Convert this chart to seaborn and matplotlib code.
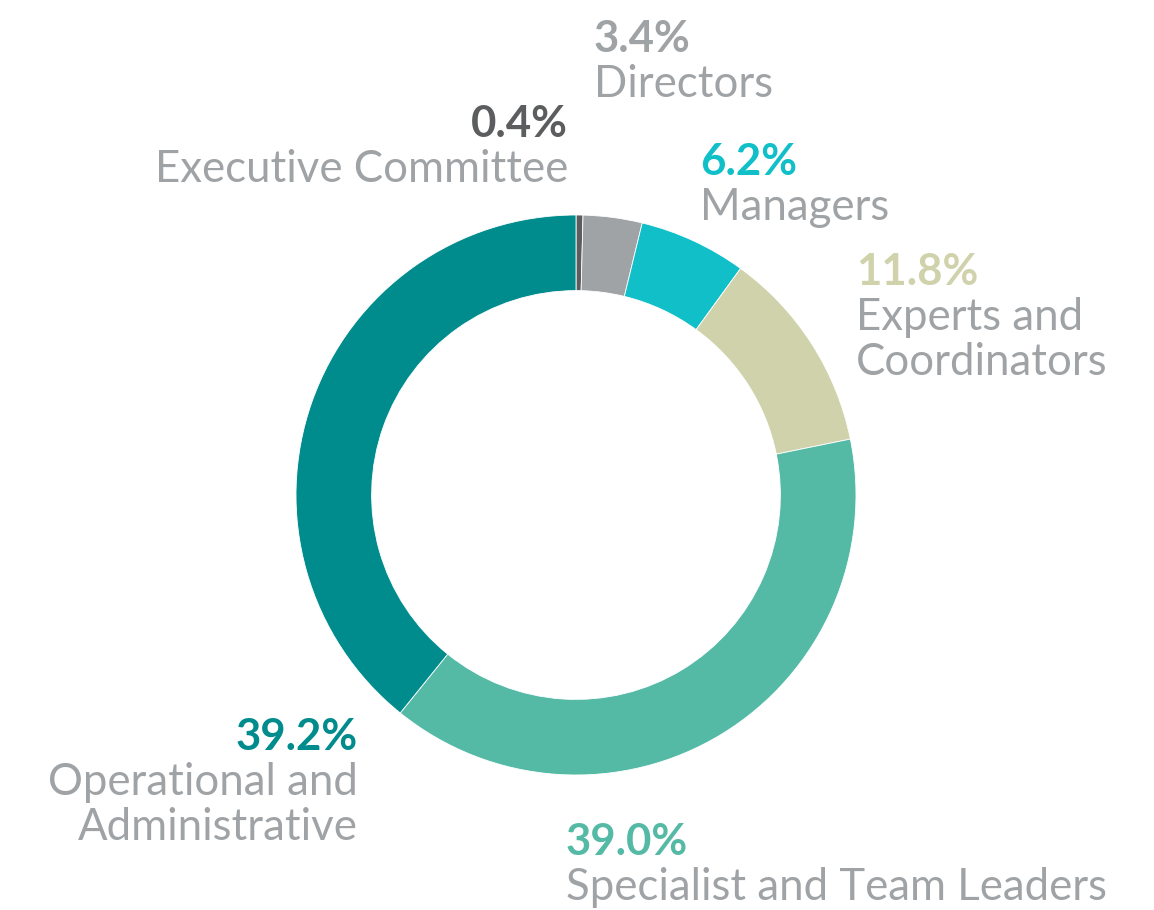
import matplotlib
matplotlib.use("Agg")
import matplotlib.pyplot as plt
import seaborn as sns

# Workforce breakdown by job level (share of employees, %)
categories = ["Executive Committee", "Directors", "Managers",
              "Experts and\nCoordinators", "Specialist and Team Leaders",
              "Operational and\nAdministrative"]
shares = [0.4, 3.4, 6.2, 11.8, 39.0, 39.2]
colors = ["#5c5d5f", "#a0a3a5", "#10bfc8", "#d0d2ab", "#55baa5", "#008b8d"]

sns.set_theme(style="white")
plt.rcParams["font.family"] = ["Lato", "DejaVu Sans"]

W, H = 1154, 910
fig = plt.figure(figsize=(W / 100, H / 100), dpi=100)
ax = fig.add_axes([0, 0, 1, 1])
ax.set_xlim(0, W)
ax.set_ylim(0, H)
ax.set_aspect("equal")
ax.axis("off")

cx, cy, R = 576, H - 495, 280
ax.pie(shares, colors=colors, startangle=90, counterclock=False,
       center=(cx, cy), radius=R,
       wedgeprops=dict(width=R * 0.27, edgecolor="white", linewidth=0.6))
ax.set_xlim(0, W)
ax.set_ylim(0, H)

name_color = "#a0a3a6"
# (x, baseline y of percentage, alignment) for each label block
label_pos = [(568, 137, "right"), (594, 52, "left"), (700, 175, "left"),
             (856, 285, "left"), (566, 855, "left"), (358, 750, "right")]
line_gap = 45
fs = 31.5
for cat, val, col, (x, y, ha) in zip(categories, shares, colors, label_pos):
    ax.text(x, H - y, f"{val:.1f}%", color=col, fontsize=fs,
            fontweight="bold", ha=ha, va="baseline")
    for i, line in enumerate(cat.split("\n")):
        ax.text(x, H - (y + line_gap * (i + 1)), line, color=name_color,
                fontsize=fs, ha=ha, va="baseline")

fig.savefig("out.png", dpi=100, facecolor="white")
